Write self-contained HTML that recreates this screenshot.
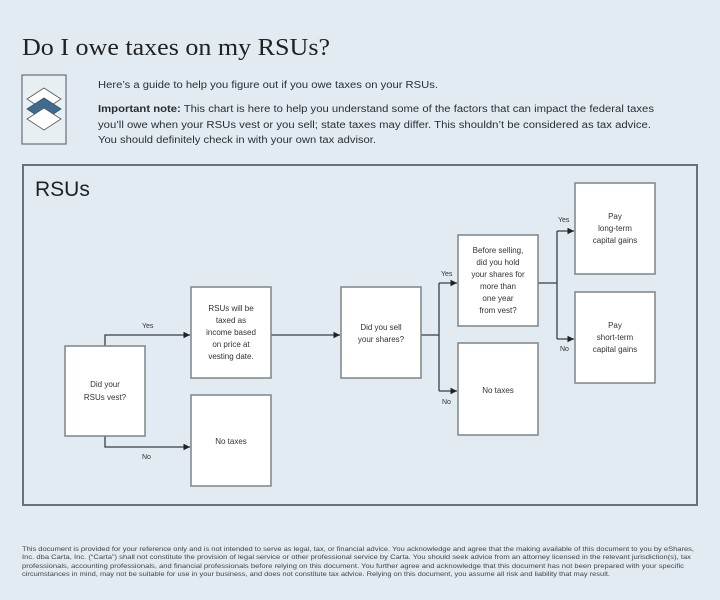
<!DOCTYPE html>
<html><head><meta charset="utf-8"><style>
html,body{margin:0;padding:0;background:#e1ebf1;}
svg{display:block;}
text{font-family:"Liberation Sans",sans-serif;fill:#2a2f33;}
.b{fill:#fff;stroke:#7d8489;stroke-width:1.5;}
.l{stroke:#3a3f44;stroke-width:1.3;fill:none;}
.t{font-size:8px;text-anchor:middle;fill:#333;}
.s{font-size:7px;fill:#333;}
.f{font-size:6px;fill:#444;}
</style></head><body>
<svg width="720" height="600" viewBox="0 0 720 600" xmlns="http://www.w3.org/2000/svg">
<defs><marker id="a" markerWidth="6" markerHeight="6" refX="5" refY="3" orient="auto"><path d="M0,0.5 L5,3 L0,5.5z" fill="#222"/></marker></defs>
<rect width="720" height="600" fill="#e1ebf1"/>
<text x="22" y="55" style="font-family:'Liberation Serif',serif;font-size:24px;fill:#222" textLength="308" lengthAdjust="spacingAndGlyphs">Do I owe taxes on my RSUs?</text>
<rect x="22" y="75" width="44" height="69" fill="#e8eff3" stroke="#6a7075" stroke-width="1.2"/>
<g transform="translate(44,110)">
<path d="M0,-22 L17,-11 L0,0 L-17,-11z" fill="#fff" stroke="#555" stroke-width="0.8"/>
<path d="M0,-12 L17,-1 L0,10 L-17,-1z" fill="#3f6b8e" stroke="#2e4f6a" stroke-width="0.8"/>
<path d="M0,-2 L17,9 L0,20 L-17,9z" fill="#fff" stroke="#555" stroke-width="0.8"/>
</g>
<text x="98" y="88" style="font-size:10px" textLength="340" lengthAdjust="spacingAndGlyphs">Here’s a guide to help you figure out if you owe taxes on your RSUs.</text>
<text x="98" y="112" style="font-size:10px" textLength="556" lengthAdjust="spacingAndGlyphs"><tspan font-weight="bold">Important note:</tspan> This chart is here to help you understand some of the factors that can impact the federal taxes</text>
<text x="98" y="128" style="font-size:10px" textLength="553" lengthAdjust="spacingAndGlyphs">you’ll owe when your RSUs vest or you sell; state taxes may differ. This shouldn’t be considered as tax advice.</text>
<text x="98" y="143" style="font-size:10px" textLength="278" lengthAdjust="spacingAndGlyphs">You should definitely check in with your own tax advisor.</text>
<rect x="23" y="165" width="674" height="340" fill="none" stroke="#6a7075" stroke-width="2"/>
<text x="35" y="196" style="font-size:21px;fill:#222">RSUs</text>
<path class="l" d="M105,346 V335 H190" marker-end="url(#a)"/>
<path class="l" d="M105,436 V447 H190" marker-end="url(#a)"/>
<path class="l" d="M271,335 H340" marker-end="url(#a)"/>
<path class="l" d="M421,335 H439 M439,283 V391"/>
<path class="l" d="M439,283 H457" marker-end="url(#a)"/>
<path class="l" d="M439,391 H457" marker-end="url(#a)"/>
<path class="l" d="M538,283 H557 M557,231 V339"/>
<path class="l" d="M557,231 H574" marker-end="url(#a)"/>
<path class="l" d="M557,339 H574" marker-end="url(#a)"/>
<text class="s" x="142" y="328">Yes</text>
<text class="s" x="142" y="459">No</text>
<text class="s" x="441" y="276">Yes</text>
<text class="s" x="442" y="404">No</text>
<text class="s" x="558" y="222">Yes</text>
<text class="s" x="560" y="351">No</text>
<rect class="b" x="65" y="346" width="80" height="90"/>
<text class="t" x="105" y="387">Did your</text><text class="t" x="105" y="400">RSUs vest?</text>
<rect class="b" x="191" y="287" width="80" height="91"/>
<text class="t" x="231" y="311">RSUs will be</text><text class="t" x="231" y="323">taxed as</text><text class="t" x="231" y="335">income based</text><text class="t" x="231" y="347">on price at</text><text class="t" x="231" y="359">vesting date.</text>
<rect class="b" x="191" y="395" width="80" height="91"/>
<text class="t" x="231" y="444">No taxes</text>
<rect class="b" x="341" y="287" width="80" height="91"/>
<text class="t" x="381" y="330">Did you sell</text><text class="t" x="381" y="342">your shares?</text>
<rect class="b" x="458" y="235" width="80" height="91"/>
<text class="t" x="498" y="253">Before selling,</text><text class="t" x="498" y="265">did you hold</text><text class="t" x="498" y="277">your shares for</text><text class="t" x="498" y="289">more than</text><text class="t" x="498" y="301">one year</text><text class="t" x="498" y="313">from vest?</text>
<rect class="b" x="458" y="343" width="80" height="92"/>
<text class="t" x="498" y="393">No taxes</text>
<rect class="b" x="575" y="183" width="80" height="91"/>
<text class="t" x="615" y="219">Pay</text><text class="t" x="615" y="231">long-term</text><text class="t" x="615" y="243">capital gains</text>
<rect class="b" x="575" y="292" width="80" height="91"/>
<text class="t" x="615" y="328">Pay</text><text class="t" x="615" y="340">short-term</text><text class="t" x="615" y="352">capital gains</text>
<text class="f" x="22" y="551" textLength="672" lengthAdjust="spacingAndGlyphs">This document is provided for your reference only and is not intended to serve as legal, tax, or financial advice. You acknowledge and agree that the making available of this document to you by eShares,</text>
<text class="f" x="22" y="559" textLength="669" lengthAdjust="spacingAndGlyphs">Inc. dba Carta, Inc. (“Carta”) shall not constitute the provision of legal service or other professional service by Carta. You should seek advice from an attorney licensed in the relevant jurisdiction(s), tax</text>
<text class="f" x="22" y="568" textLength="662" lengthAdjust="spacingAndGlyphs">professionals, accounting professionals, and financial professionals before relying on this document. You further agree and acknowledge that this document has not been prepared with your specific</text>
<text class="f" x="22" y="576" textLength="588" lengthAdjust="spacingAndGlyphs">circumstances in mind, may not be suitable for use in your business, and does not constitute tax advice. Relying on this document, you assume all risk and liability that may result.</text>
</svg>
</body></html>
